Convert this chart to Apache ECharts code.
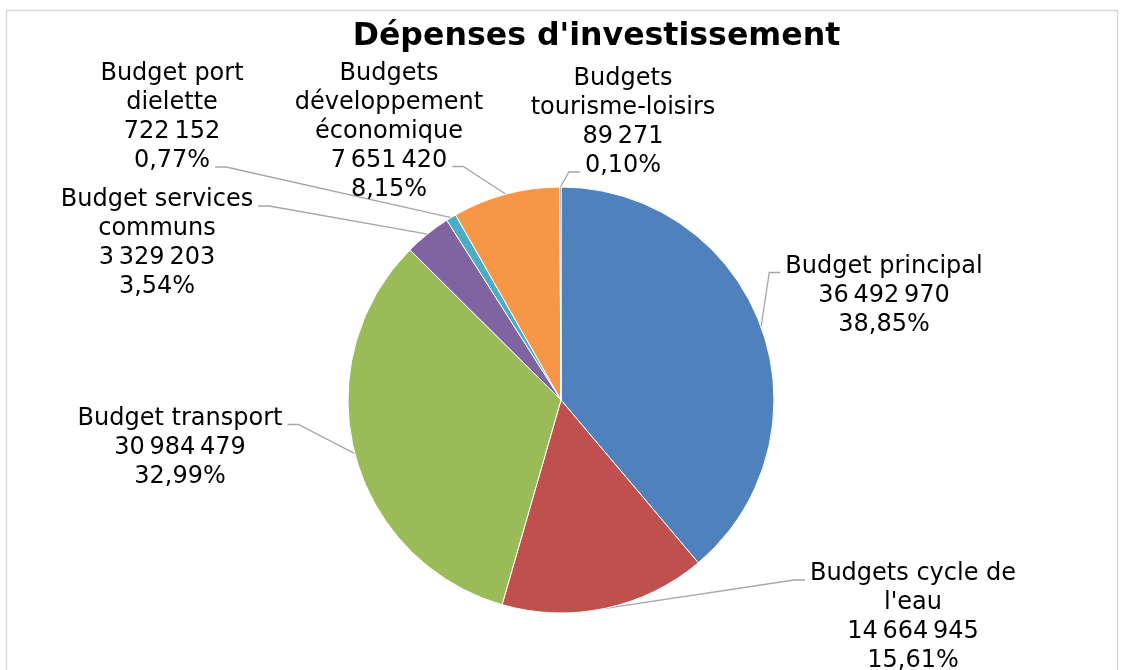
<!DOCTYPE html>
<html>
<head>
<meta charset="utf-8">
<script src="https://cdn.jsdelivr.net/npm/echarts@6/dist/echarts.min.js"></script>
<style>
  html, body { margin: 0; padding: 0; background: #fff; }
  #chart { width: 1124px; height: 670px; }
</style>
</head>
<body>
<div id="chart"></div>
<script>
// données
var names = [
  'Budget principal',
  'Budgets cycle de\nl\'eau',
  'Budget transport',
  'Budget services\ncommuns',
  'Budget port\ndielette',
  'Budgets\ndéveloppement\néconomique',
  'Budgets\ntourisme-loisirs'
];
var values = [36492970, 14664945, 30984479, 3329203, 722152, 7651420, 89271];
var colors = ['#4F81BD', '#C0504D', '#9BBB59', '#8064A2', '#4BACC6', '#F79646', '#2C4D75'];
// centre du bloc de texte de chaque étiquette
var labelPos = [
  [884, 295.5], [913, 617.5], [180, 447.5], [157, 243.5], [172, 117.5], [389, 131.5], [623, 122.5]
];
// côté et ligne de l'étiquette où arrive le trait de rappel
var labelAnchor = [
  ['left', 0], ['left', 0], ['right', 0], ['right', 0], ['right', 3], ['right', 3], ['left', 3]
];

var FONT_SIZE = 24;
var LINE_H = 29;

var total = values.reduce(function (a, b) { return a + b; }, 0);

function fmtNum(v) {
  return String(v).replace(/\B(?=(\d{3})+(?!\d))/g, '\u2009');
}
function fmtPct(v) {
  return (v / total * 100).toFixed(2).replace('.', ',') + '%';
}
function labelText(name, v) {
  return name + '\n' + fmtNum(v) + '\n' + fmtPct(v);
}

var measureCtx = document.createElement('canvas').getContext('2d');
measureCtx.font = FONT_SIZE + 'px "DejaVu Sans"';

var chart = echarts.init(document.getElementById('chart'));

var pieData = [];
for (var i = 0; i < names.length; i++) {
  pieData.push({ name: names[i], value: values[i], itemStyle: { color: colors[i] } });
}

chart.setOption({
  animation: false,
  title: {
    text: 'Dépenses d\'investissement',
    left: 591.5,
    top: 16,
    textAlign: 'center',
    textStyle: { fontFamily: 'DejaVu Sans', fontSize: 31.6, fontWeight: 'bold', color: '#000' }
  },
  graphic: [{
    type: 'rect',
    shape: { x: 6.5, y: 10.5, width: 1111, height: 700 },
    style: { fill: 'none', stroke: '#d9d9d9', lineWidth: 1.5 },
    silent: true
  }],
  series: [{
    type: 'pie',
    center: [561, 400],
    radius: 213,
    startAngle: 90,
    clockwise: true,
    avoidLabelOverlap: false,
    itemStyle: { borderColor: '#fff', borderWidth: 1 },
    label: {
      show: true,
      position: 'outside',
      fontFamily: 'DejaVu Sans',
      fontSize: FONT_SIZE,
      lineHeight: LINE_H,
      color: '#000',
      align: 'center',
      formatter: function (p) {
        return labelText(p.name, p.value);
      }
    },
    labelLine: {
      show: true,
      length: 8,
      length2: 10,
      lineStyle: { color: '#a6a6a6', width: 1.3 }
    },
    labelLayout: function (params) {
      var idx = params.dataIndex;
      var pos = labelPos[idx];
      var anc = labelAnchor[idx];
      var lines = labelText(names[idx], values[idx]).split('\n');
      var top = pos[1] - lines.length * LINE_H / 2;
      var ly = top + anc[1] * LINE_H + LINE_H / 2 + 6;
      var w = measureCtx.measureText(lines[anc[1]]).width;
      var sgn = anc[0] === 'left' ? -1 : 1;
      var ax = pos[0] + sgn * (w / 2 + 5);
      var start = params.labelLinePoints ? params.labelLinePoints[0] : null;
      var out = { x: pos[0], y: pos[1], align: 'center', verticalAlign: 'middle' };
      if (start) {
        out.labelLinePoints = [[start[0], start[1]], [ax + sgn * 11, ly], [ax, ly]];
      }
      return out;
    },
    data: pieData
  }]
});
</script>
</body>
</html>
